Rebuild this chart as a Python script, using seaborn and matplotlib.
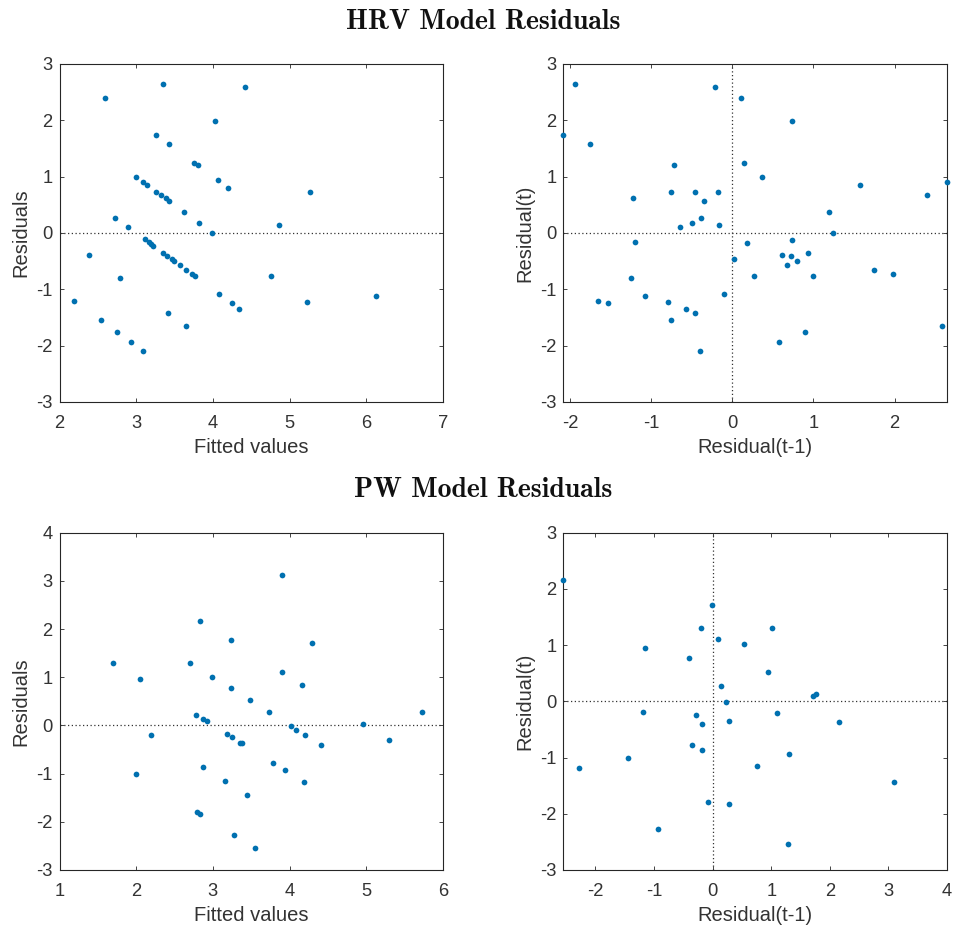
import matplotlib
matplotlib.use("Agg")
import matplotlib.pyplot as plt
import pandas as pd
import seaborn as sns

# HRV model: fitted values and residuals
hrv_fitted = [3.354, 4.419, 2.594, 4.022, 3.253, 3.424, 3.751, 3.803, 2.991, 3.092,
              3.140, 4.061, 4.201, 3.262, 3.328, 3.384, 3.428, 3.629, 2.729, 3.821,
              2.891, 3.991, 3.109, 3.166, 3.192, 3.218, 2.384, 3.345, 3.406, 3.463,
              3.489, 3.572, 3.651, 3.725, 3.764, 2.790, 4.079, 2.188, 4.249, 4.345,
              3.415, 2.537, 3.655, 2.747, 2.934, 3.083, 5.270, 4.857, 4.752, 5.226,
              6.122]
hrv_resid = [2.648, 2.583, 2.405, 1.980, 1.743, 1.578, 1.247, 1.200, 0.999, 0.898,
             0.857, 0.940, 0.798, 0.733, 0.674, 0.615, 0.573, 0.372, 0.266, 0.183,
             0.100, 0.006, -0.112, -0.165, -0.195, -0.225, -0.390, -0.349, -0.408, -0.461,
             -0.491, -0.573, -0.650, -0.727, -0.762, -0.792, -1.082, -1.200, -1.247, -1.348,
             -1.418, -1.543, -1.655, -1.755, -1.939, -2.086, 0.733, 0.142, -0.757, -1.229,
             -1.123]

# HRV model: lag-1 residual pairs
hrv_lag_prev = [-1.934, -0.214, 0.107, -2.082, -1.753, -0.720, -0.753, -0.457, -0.177, -1.226,
                -0.346, -0.387, -0.490, -0.642, -0.160, -1.193, 0.016, -1.243, -0.107, -1.650,
                -1.535, -1.078, -0.790, -0.568, -0.465, -0.761, -0.403, 0.150, 0.181, 0.267,
                0.737, 0.370, 1.576, 2.403, 2.646, 1.198, 1.247, 0.733, 0.613, 0.728,
                0.938, 0.798, 0.671, 1.000, 1.745, 1.979, 2.584, 0.572, 0.897]
hrv_lag_curr = [2.648, 2.583, 2.405, 1.743, 1.578, 1.200, 0.727, 0.733, 0.733, 0.615,
                0.573, 0.266, 0.177, 0.100, 0.142, -0.165, -0.467, -0.792, -1.082, -1.200,
                -1.247, -1.123, -1.229, -1.348, -1.418, -1.543, -2.086, 1.247, -0.183, -0.757,
                1.980, 0.999, 0.857, 0.674, 0.898, 0.366, 0.006, -0.118, -0.396, -0.414,
                -0.355, -0.491, -0.573, -0.762, -0.650, -0.727, -1.655, -1.939, -1.755]

# PW model: fitted values and residuals
pw_fitted = [2.834, 3.240, 1.699, 2.703, 2.044, 2.991, 3.240, 3.485, 2.782, 2.869,
             2.917, 2.188, 3.183, 3.249, 3.358, 3.380, 2.000, 2.865, 3.153, 3.450,
             2.790, 2.830, 3.271, 3.546, 3.896, 4.291, 3.896, 4.165, 3.726, 5.726,
             4.017, 4.087, 4.200, 4.961, 4.404, 5.296, 3.783, 3.935, 4.183]
pw_resid = [2.169, 1.769, 1.300, 1.300, 0.955, 1.010, 0.769, 0.521, 0.217, 0.134,
            0.086, -0.190, -0.176, -0.245, -0.355, -0.369, -1.003, -0.866, -1.148, -1.445,
            -1.797, -1.831, -2.269, -2.548, 3.114, 1.714, 1.107, 0.838, 0.272, 0.279,
            -0.017, -0.086, -0.197, 0.038, -0.403, -0.293, -0.783, -0.934, -1.183]

# PW model: lag-1 residual pairs
pw_lag_prev = [-2.549, -0.006, -0.194, 0.097, 0.531, -1.149, -0.400, 0.137, 0.229, -1.183,
               -0.286, 0.286, -0.189, -0.349, -0.177, -1.440, -2.274, -0.080, 0.280, -0.926,
               1.006, 0.949, 1.705, 1.761, 1.102, 2.165, 1.295, 0.761, 3.102, 1.290]
pw_lag_curr = [2.165, 1.711, 1.304, 1.103, 1.015, 0.956, 0.767, 0.271, -0.018, -0.189,
               -0.242, -0.354, -0.401, -0.779, -0.861, -1.003, -1.180, -1.794, -1.823, -2.265,
               1.298, 0.519, 0.088, 0.136, -0.201, -0.372, -0.932, -1.145, -1.440, -2.543]

section_titles = ["HRV Model Residuals", "PW Model Residuals"]

sns.set_style("white")
plt.rcParams.update({
    "font.family": ["Liberation Sans", "DejaVu Sans"],
    "axes.unicode_minus": False,
    "axes.edgecolor": "#262626",
    "axes.linewidth": 0.8,
    "xtick.color": "#262626",
    "ytick.color": "#262626",
    "xtick.direction": "in",
    "ytick.direction": "in",
    "xtick.top": True,
    "ytick.right": True,
    "xtick.bottom": True,
    "ytick.left": True,
    "xtick.major.size": 3,
    "ytick.major.size": 3,
    "xtick.major.width": 0.6,
    "ytick.major.width": 0.6,
})

W, H = 955, 934
fig = plt.figure(figsize=(W / 100, H / 100), dpi=100)


def px_axes(left, top, right, bottom):
    return fig.add_axes([left / W, 1 - bottom / H, (right - left) / W, (bottom - top) / H])


dot_color = "#0070B0"
text_color = "#333333"
label_fs = 14.5
tick_fs = 13.2


def scatter_panel(ax, x, y, xlabel, ylabel, xlim, ylim, xticks, yticks, vline=False):
    df = pd.DataFrame({"x": x, "y": y})
    sns.scatterplot(data=df, x="x", y="y", ax=ax, color=dot_color, s=17,
                    linewidth=0, zorder=3, clip_on=False)
    ax.axhline(0, color="#333333", linestyle=(0, (1, 2)), linewidth=0.9, zorder=1)
    if vline:
        ax.axvline(0, color="#333333", linestyle=(0, (1, 2)), linewidth=0.9, zorder=1)
    ax.set_xlim(*xlim)
    ax.set_ylim(*ylim)
    ax.set_xticks(xticks)
    ax.set_yticks(yticks)
    ax.set_xticklabels([str(t) for t in xticks], fontsize=tick_fs, color=text_color)
    ax.set_yticklabels([str(t) for t in yticks], fontsize=tick_fs, color=text_color)
    ax.set_xlabel(xlabel, fontsize=label_fs, color=text_color, labelpad=4.5)
    ax.set_ylabel(ylabel, fontsize=label_fs, color=text_color, labelpad=4)
    for sp in ax.spines.values():
        sp.set_visible(True)
    ax.tick_params(axis="x", which="major", pad=9.5)
    ax.tick_params(axis="y", which="major", pad=5)


ax1 = px_axes(59.5, 64, 443, 402)
scatter_panel(ax1, hrv_fitted, hrv_resid, "Fitted values", "Residuals",
              (2, 7), (-3, 3), [2, 3, 4, 5, 6, 7], [-3, -2, -1, 0, 1, 2, 3])

ax2 = px_axes(563.3, 64, 947, 402)
scatter_panel(ax2, hrv_lag_prev, hrv_lag_curr, "Residual(t-1)", "Residual(t)",
              (min(hrv_lag_prev), max(hrv_lag_prev)), (-3, 3),
              [-2, -1, 0, 1, 2], [-3, -2, -1, 0, 1, 2, 3], vline=True)

ax3 = px_axes(59.5, 532.7, 443, 870)
scatter_panel(ax3, pw_fitted, pw_resid, "Fitted values", "Residuals",
              (1, 6), (-3, 4), [1, 2, 3, 4, 5, 6], [-3, -2, -1, 0, 1, 2, 3, 4])

ax4 = px_axes(563.3, 532.7, 947, 870)
scatter_panel(ax4, pw_lag_prev, pw_lag_curr, "Residual(t-1)", "Residual(t)",
              (min(pw_lag_prev), 4), (-3, 3),
              [-2, -1, 0, 1, 2, 3, 4], [-3, -2, -1, 0, 1, 2, 3], vline=True)

fig.text(483.5 / W, 1 - 29 / H, section_titles[0], family="cmb10", fontsize=20,
         ha="center", va="baseline", color="#111111")
fig.text(483.5 / W, 1 - 497 / H, section_titles[1], family="cmb10", fontsize=20,
         ha="center", va="baseline", color="#111111")

fig.savefig("out.png", dpi=100, facecolor="white")
